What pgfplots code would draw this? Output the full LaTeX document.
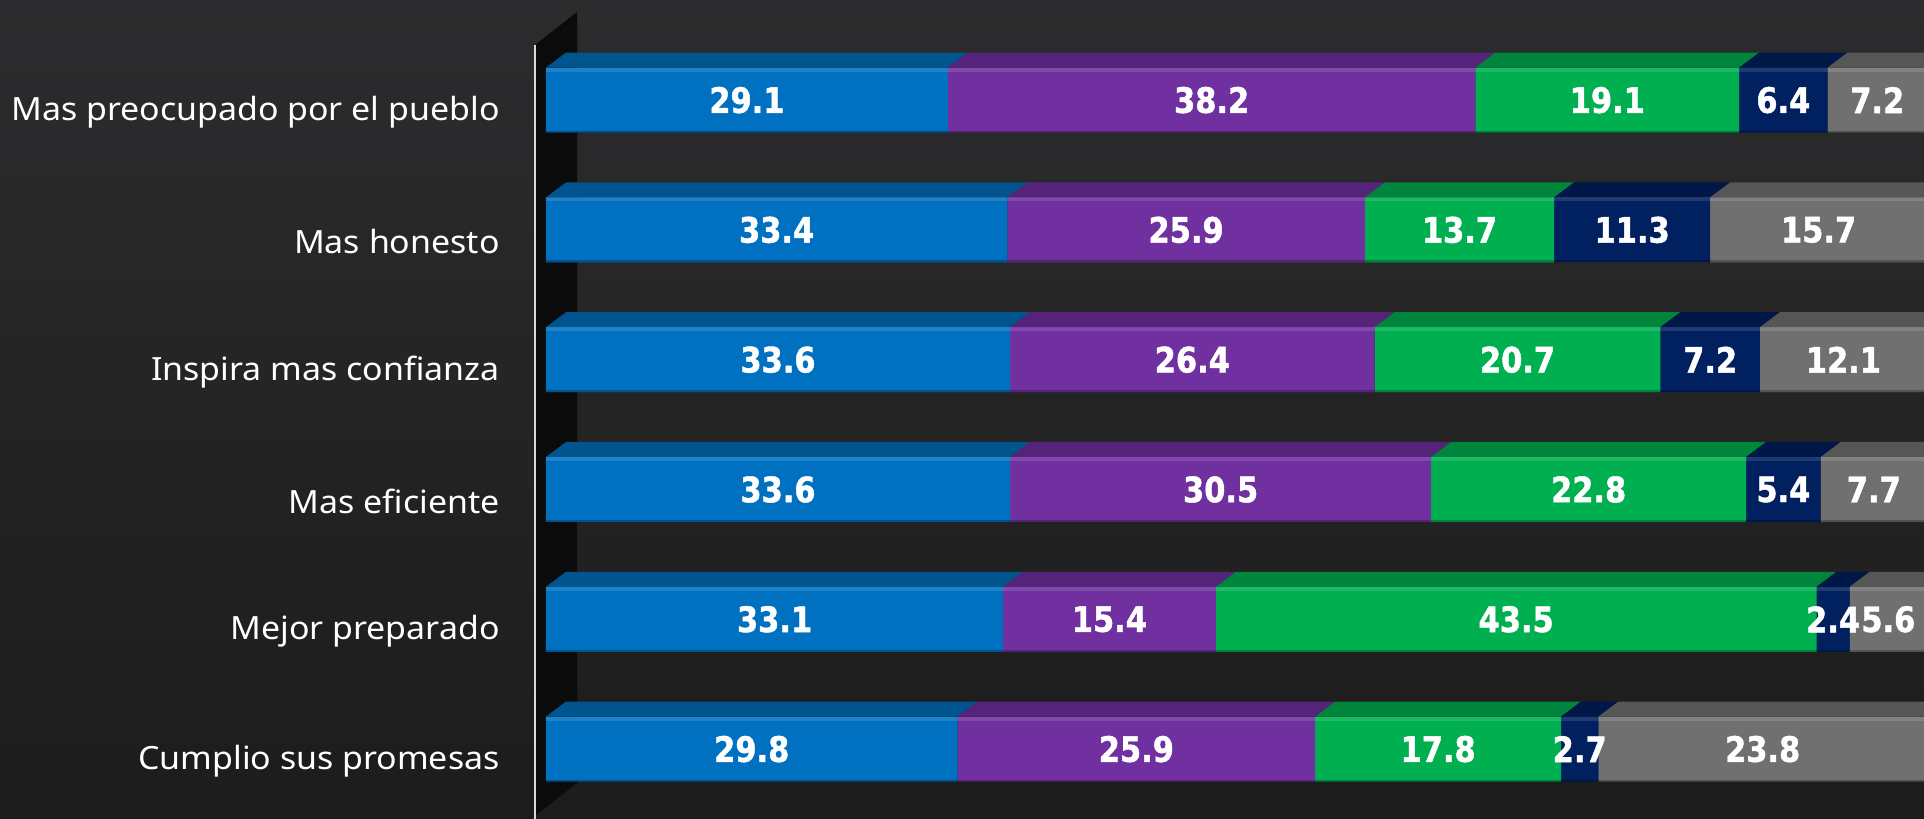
\documentclass[border=0pt]{standalone}
\usepackage{pgfplots}
\pgfplotsset{compat=1.18}
\usepackage{pgfplotstable}
\usepackage{fontspec}
\setmainfont{Noto Sans}[FakeStretch=1.06]
\newfontfamily\lblfont{DejaVu Sans}[BoldFeatures={FakeStretch=0.87, FakeBold=1.3}]
\definecolor{cA}{HTML}{0070C0}\definecolor{cAt}{HTML}{00558F}
\definecolor{cB}{HTML}{7030A0}\definecolor{cBt}{HTML}{55247A}
\definecolor{cC}{HTML}{00B050}\definecolor{cCt}{HTML}{00853C}
\definecolor{cD}{HTML}{002060}\definecolor{cDt}{HTML}{001848}
\definecolor{cE}{HTML}{707070}\definecolor{cEt}{HTML}{565656}
\definecolor{bgtop}{HTML}{2C2C2E}\definecolor{bgbot}{HTML}{1C1C1C}
\definecolor{wall}{HTML}{0B0B0B}

\pgfplotstableread{
y a b c d e
5 29.1 38.2 19.1 6.4 7.2
4 33.4 25.9 13.7 11.3 15.7
3 33.6 26.4 20.7 7.2 12.1
2 33.6 30.5 22.8 5.4 7.7
1 33.1 15.4 43.5 2.4 5.6
0 29.8 25.9 17.8 2.7 23.8
}\data

\pgfplotsset{myaxis/.style={
  at={(273pt,2.5pt)}, anchor=south west, scale only axis,
  width=690.5pt, height=389.4pt, xmin=0, xmax=100, ymin=-0.5, ymax=5.5,
  clip=false,
}}

\begin{document}
\begin{tikzpicture}
\useasboundingbox (0,0) rectangle (962pt,409.5pt);
\clip (0,0) rectangle (962pt,409.5pt);
\shade[top color=bgtop, bottom color=bgbot] (0,0) rectangle (962pt,409.5pt);
\fill[wall] (267.5pt,387pt) -- (288.5pt,403.5pt) -- (288.5pt,18pt) -- (267.5pt,1.5pt) -- cycle;
\draw[line width=1.1pt, white!85!black] (267.5pt,387pt) -- (267.5pt,0pt);

\begin{axis}[myaxis, xbar stacked, bar width=32.5pt,
  axis line style={draw=none}, tick style={draw=none},
  xtick=\empty, ytick={0,...,5},
  yticklabels={Cumplio sus promesas, Mejor preparado, Mas eficiente, Inspira mas confianza, Mas honesto, Mas preocupado por el pueblo},
  yticklabel style={font=\fontsize{16}{18}\selectfont, text=white, anchor=east, inner sep=0pt, xshift=-23pt, yshift=-6pt},
]
\addplot[fill=cA, draw=none] table[x=a, y=y]{\data};
\addplot[fill=cB, draw=none] table[x=b, y=y]{\data};
\addplot[fill=cC, draw=none] table[x=c, y=y]{\data};
\addplot[fill=cD, draw=none] table[x=d, y=y]{\data};
\addplot[fill=cE, draw=none] table[x=e, y=y]{\data};
\end{axis}

\begin{axis}[myaxis, hide axis]
\pgfmathsetmacro\DX{1.448}
\pgfmathsetmacro\DY{0.1156}
\pgfmathsetmacro\H{0.2504}
\foreach \r in {0,...,5}{
  \pgfplotstablegetelem{\r}{y}\of\data
  \pgfmathsetmacro\yy{\pgfplotsretval}
  \xdef\cum{0}
  \foreach \s/\cc in {a/cAt,b/cBt,c/cCt,d/cDt,e/cEt}{
    \pgfplotstablegetelem{\r}{\s}\of\data
    \pgfmathsetmacro\xa{\cum}
    \pgfmathsetmacro\xb{\cum+\pgfplotsretval}
    \pgfmathsetmacro\ya{\yy+\H}
    \pgfmathsetmacro\yb{\yy+\H+\DY}
    \pgfmathsetmacro\xc{\xb+\DX}
    \pgfmathsetmacro\xd{\xa+\DX}
    \pgfmathsetmacro\yh{\yy+\H-0.016}
    \pgfmathsetmacro\yl{\yy-\H+0.008}
    \edef\tmp{\noexpand\addplot[fill=\cc, draw=none, forget plot] coordinates {(\xa,\ya) (\xb,\ya) (\xc,\yb) (\xd,\yb)} -- cycle;
      \noexpand\addplot[draw=white, draw opacity=0.12, line width=2pt, forget plot] coordinates {(\xa,\yh) (\xb,\yh)};
      \noexpand\addplot[draw=black, draw opacity=0.25, line width=1pt, forget plot] coordinates {(\xa,\yl) (\xb,\yl)};}
    \tmp
    \xdef\cum{\xb}
  }
}
\pgfplotsset{lbl/.style={draw=none, no markers, nodes near coords, point meta=explicit symbolic,
  every node near coord/.append style={anchor=center, text=white, inner sep=0pt, font=\lblfont\bfseries\fontsize{17.5}{17.5}\selectfont}}}
\addplot[lbl] table[x expr=\thisrow{a}/2, y=y, meta=a]{\data};
\addplot[lbl] table[x expr=\thisrow{a}+\thisrow{b}/2, y=y, meta=b]{\data};
\addplot[lbl] table[x expr=\thisrow{a}+\thisrow{b}+\thisrow{c}/2, y=y, meta=c]{\data};
\addplot[lbl] table[x expr=\thisrow{a}+\thisrow{b}+\thisrow{c}+\thisrow{d}/2, y=y, meta=d]{\data};
\addplot[lbl] table[x expr=\thisrow{a}+\thisrow{b}+\thisrow{c}+\thisrow{d}+\thisrow{e}/2, y=y, meta=e]{\data};
\end{axis}
\end{tikzpicture}
\end{document}
